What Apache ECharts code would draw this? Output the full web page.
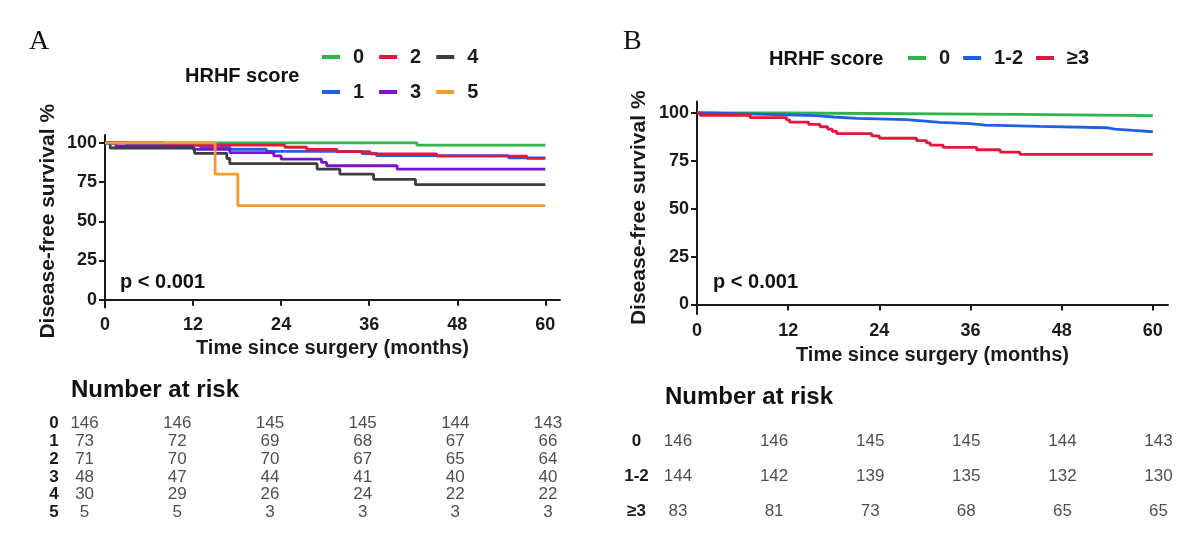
<!DOCTYPE html>
<html>
<head>
<meta charset="utf-8">
<script src="https://cdn.jsdelivr.net/npm/echarts@6/dist/echarts.min.js"></script>
<style>
html, body { margin: 0; padding: 0; background: #fff; }
#chart { width: 1200px; height: 540px; }
</style>
</head>
<body>
<div id="chart"></div>
<script>
// shared axis values
const months = [0, 12, 24, 36, 48, 60];
const yTicks = [0, 25, 50, 75, 100];

// panel A: HRHF score 0..5, Kaplan-Meier steps as [month, DFS %]
const groupsA = ['0', '1', '2', '3', '4', '5'];
const colorsA = ['#2fb34b', '#1f5fe3', '#e5163d', '#7b12cf', '#3d3d3d', '#f99a2a'];
const kmA0 = [[0, 100], [42.5, 98.6], [60, 98.6]];
const kmA1 = [[0, 100], [3, 98.6], [13, 97.3], [17, 95.9], [22, 94.5], [35, 93.2], [37, 91.8], [55, 90.4], [60, 90.4]];
const kmA2 = [[0, 100], [8, 98.6], [24.5, 97.2], [27.5, 95.8], [31.6, 94.4], [36.1, 93.0], [45.2, 91.5], [57.5, 90.1], [60, 90.1]];
const kmA3 = [[0, 100], [1.5, 97.9], [12, 95.8], [17, 93.8], [23, 91.7], [24, 89.6], [29.5, 87.5], [30.2, 85.4], [39.8, 83.3], [60, 83.3]];
const kmA4 = [[0, 100], [0.7, 96.7], [12.2, 93.3], [16.6, 90.0], [17, 86.7], [28.9, 83.3], [32, 80.0], [36.6, 76.7], [42.3, 73.3], [60, 73.3]];
const kmA5 = [[0, 100], [15, 80], [18.1, 60], [60, 60]];
const riskA = [
    [146, 146, 145, 145, 144, 143],
    [73, 72, 69, 68, 67, 66],
    [71, 70, 70, 67, 65, 64],
    [48, 47, 44, 41, 40, 40],
    [30, 29, 26, 24, 22, 22],
    [5, 5, 3, 3, 3, 3]
];

// panel B: HRHF score grouped
const groupsB = ['0', '1-2', '≥3'];
const colorsB = ['#2fb34b', '#1f5fe3', '#e5163d'];
const kmB0 = [[0, 100], [12.2, 99.3], [42.5, 98.6], [60, 98.6]];
const kmB1 = [[0, 100], [1.5, 99.3], [9, 98.6], [15.7, 97.9], [18, 97.2], [21, 96.5], [27.6, 95.8], [30, 95.1], [32, 94.4],
    [35.9, 93.7], [38, 93.0], [45.1, 92.3], [53.9, 91.6], [55, 90.9], [57.4, 90.2], [60, 90.2]];
const kmB2 = [[0, 100], [0.4, 98.8], [7, 97.6], [11.8, 96.4], [12.2, 95.2], [14.7, 94.0], [16.2, 92.8], [17.2, 91.6],
    [17.8, 90.4], [18.4, 89.2], [23, 88.0], [24, 86.8], [28.9, 85.6], [30.2, 84.4], [30.7, 83.2], [32.4, 82.0],
    [36.8, 80.8], [39.9, 79.6], [42.5, 78.4], [60, 78.4]];
const riskB = [
    [146, 146, 145, 145, 144, 143],
    [144, 142, 139, 135, 132, 130],
    [83, 81, 73, 68, 65, 65]
];

const kmA = [kmA0, kmA1, kmA2, kmA3, kmA4, kmA5];
const kmB = [kmB0, kmB1, kmB2];

const SANS = "'Liberation Sans', Arial, sans-serif";
const INK = '#1a1a1a';

const chart = echarts.init(document.getElementById('chart'));

const survX = (margin) => ({
    type: 'value', min: 0, max: 62,
    name: 'Time since surgery (months)', nameLocation: 'middle', nameGap: 31,
    nameTextStyle: { fontFamily: SANS, fontWeight: 'bold', fontSize: 20, color: INK },
    axisLine: { lineStyle: { color: INK, width: 2 } },
    axisTick: { customValues: months, length: 6, lineStyle: { color: INK, width: 2 } },
    axisLabel: { customValues: months, margin: margin, fontFamily: SANS, fontWeight: 'bold', fontSize: 18, color: INK },
    splitLine: { show: false }
});
const survY = (max, gap) => ({
    type: 'value', min: -5, max: max,
    name: 'Disease-free survival %', nameLocation: 'middle', nameGap: gap,
    nameTextStyle: { fontFamily: SANS, fontWeight: 'bold', fontSize: 21, color: INK },
    axisLine: { show: true, lineStyle: { color: INK, width: 2 } },
    axisTick: { show: true, customValues: yTicks, length: 6, lineStyle: { color: INK, width: 2 } },
    axisLabel: { customValues: yTicks, margin: 8, fontFamily: SANS, fontWeight: 'bold', fontSize: 18, color: INK },
    splitLine: { show: false }
});
const tableX = () => ({ type: 'value', min: 0, max: 60, show: false });
const tableY = (cats, margin) => ({
    type: 'category', data: cats, inverse: true,
    axisLine: { show: false }, axisTick: { show: false }, splitLine: { show: false },
    axisLabel: { interval: 0, margin: margin, align: 'center', fontFamily: SANS, fontWeight: 'bold', fontSize: 17, color: INK }
});

const lineSeries = (name, data, color, idx) => ({
    name: name, type: 'line', step: 'end', data: data,
    xAxisIndex: idx, yAxisIndex: idx,
    symbol: 'none', lineStyle: { color: color, width: 2.8 }, itemStyle: { color: color },
    silent: true
});

const tableSeries = (cats, rows, idx) => {
    const data = [];
    rows.forEach((row, r) => row.forEach((n, c) => data.push([months[c], cats[r], n])));
    return {
        type: 'scatter', xAxisIndex: idx, yAxisIndex: idx, data: data,
        symbolSize: 1, itemStyle: { color: 'rgba(0,0,0,0)' }, silent: true,
        label: { show: true, position: 'inside', formatter: p => String(p.value[2]),
            fontFamily: SANS, fontSize: 17, color: '#222' },
        labelLayout: { hideOverlap: false }
    };
};

const legendBase = {
    icon: 'rect', itemWidth: 18, itemHeight: 4, itemGap: 15, padding: 0,
    selectedMode: false,
    textStyle: { fontFamily: SANS, fontWeight: 'bold', fontSize: 20, color: INK, lineHeight: 20, padding: [0, 0, 0, 8] }
};

const textTitle = (text, left, top, size, family, weight) => ({
    text: text, left: left, top: top, padding: 0,
    textStyle: { fontFamily: family || SANS, fontWeight: weight || 'bold', fontSize: size, lineHeight: size, color: '#111' }
});

const series = [];
groupsA.forEach((g, i) => series.push(lineSeries(g, kmA[i], colorsA[i], 0)));
groupsB.forEach((g, i) => series.push(lineSeries(g, kmB[i], colorsB[i], 1)));
series.push(tableSeries(groupsA, riskA, 2));
series.push(tableSeries(groupsB, riskB, 3));

chart.setOption({
    animation: false,
    backgroundColor: '#fff',
    title: [
        textTitle('A', 29, 28, 28, "'Liberation Serif', 'Times New Roman', serif", 'normal'),
        textTitle('B', 623, 28, 28, "'Liberation Serif', 'Times New Roman', serif", 'normal'),
        textTitle('HRHF score', 185, 66, 20),
        textTitle('HRHF score', 769, 49, 20),
        textTitle('p < 0.001', 120, 272, 20),
        textTitle('p < 0.001', 713, 272, 20),
        textTitle('Number at risk', 71, 378, 24),
        textTitle('Number at risk', 665, 385, 24)
    ],
    legend: [
        Object.assign({}, legendBase, { left: 322, top: 47, data: ['0', '2', '4'] }),
        Object.assign({}, legendBase, { left: 322, top: 82, data: ['1', '3', '5'] }),
        Object.assign({}, legendBase, { left: 908, top: 48, itemGap: 13, data: groupsB })
    ],
    grid: [
        { left: 105, top: 135, width: 455, height: 172.5 },
        { left: 697, top: 101.5, width: 471, height: 212.5 },
        { left: 84.6, top: 414.4, width: 463.4, height: 107.1 },
        { left: 678, top: 424.2, width: 480.5, height: 105 }
    ],
    xAxis: [survX(9), survX(8), tableX(), tableX()].map((a, i) => Object.assign(a, { gridIndex: i })),
    yAxis: [survY(105, 46), survY(106, 47), tableY(groupsA, 30.6), tableY(groupsB, 41.5)].map((a, i) => Object.assign(a, { gridIndex: i })),
    series: series
});
</script>
</body>
</html>
